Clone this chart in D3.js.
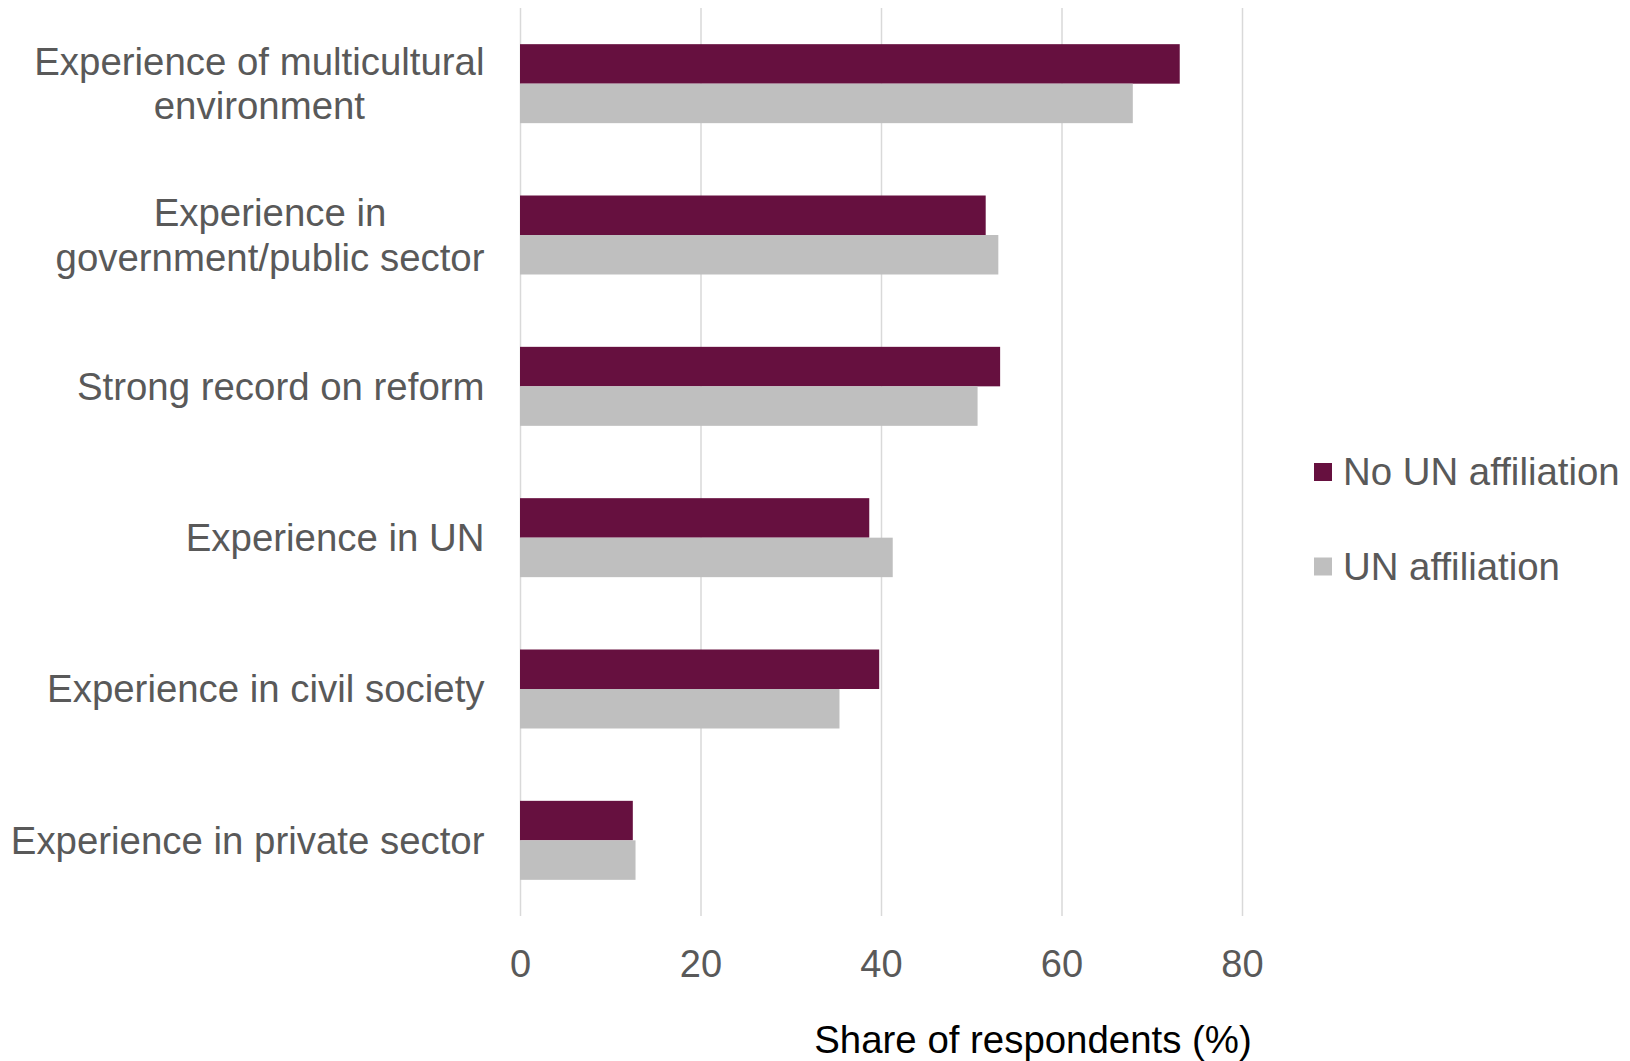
<!DOCTYPE html>
<html>
<head>
<meta charset="utf-8">
<script src="https://cdn.jsdelivr.net/npm/d3@7"></script>
<style>
  html, body { margin: 0; padding: 0; background: #ffffff; }
  svg { display: block; font-family: "Liberation Sans", Arial, sans-serif; }
</style>
</head>
<body>
<svg id="chart" width="1630" height="1061"></svg>
<script>
const categories = [
  ["Experience of multicultural", "environment"],
  ["Experience in", "government/public sector"],
  ["Strong record on reform"],
  ["Experience in UN"],
  ["Experience in civil society"],
  ["Experience in private sector"]
];
const seriesNames = ["No UN affiliation", "UN affiliation"];
const noUNValues = [73.1, 51.6, 53.2, 38.7, 39.8, 12.5];
const unValues = [67.9, 53.0, 50.7, 41.3, 35.4, 12.8];
const tickValues = [0, 20, 40, 60, 80];
const colors = ["#66103f", "#bfbfbf"];

const svg = d3.select("#chart");
const fontSize = 38.4;
const tickFontSize = 38;
const textColor = "#595959";

const x = d3.scaleLinear().domain([0, 80]).range([520, 1242]);
const y = d3.scaleBand()
  .domain(d3.range(categories.length))
  .range([8, 916])
  .paddingInner(0.478)
  .paddingOuter(0.239);
const ySub = d3.scaleBand().domain([0, 1]).range([0, y.bandwidth()]);

// gridlines
const xAxis = d3.axisBottom(x).tickValues(tickValues).tickSize(-(916 - 8)).tickFormat(d3.format("d"));
const gAxis = svg.append("g").attr("transform", "translate(0,916)").call(xAxis);
gAxis.select(".domain").remove();
gAxis.selectAll(".tick line").attr("stroke", "#d9d9d9").attr("stroke-width", 1.5);
gAxis.selectAll(".tick text")
  .attr("y", 48)
  .attr("dy", "0.35em")
  .attr("fill", textColor)
  .style("font-size", tickFontSize + "px")
  .style("font-family", '"Liberation Sans", Arial, sans-serif');

// bars
const data = categories.map((c, i) => [noUNValues[i], unValues[i]]);
const groups = svg.append("g").selectAll("g").data(data).join("g")
  .attr("transform", (d, i) => `translate(0,${y(i)})`);
groups.selectAll("rect").data(d => d).join("rect")
  .attr("x", x(0))
  .attr("y", (d, j) => ySub(j))
  .attr("width", d => x(d) - x(0))
  .attr("height", ySub.bandwidth())
  .attr("fill", (d, j) => colors[j]);

// category labels
const labelRight = 484.5;
const lineH = 44.7;
categories.forEach((lines, i) => {
  const cy = y(i) + y.bandwidth() / 2;
  const t = svg.append("text")
    .attr("fill", textColor)
    .style("font-size", fontSize + "px")
    .attr("text-anchor", "middle");
  lines.forEach((ln, k) => {
    t.append("tspan")
      .attr("y", cy + (k - (lines.length - 1) / 2) * lineH)
      .attr("dy", "0.35em")
      .text(ln);
  });
  let maxW = 0;
  t.selectAll("tspan").each(function () { maxW = Math.max(maxW, this.getComputedTextLength()); });
  t.selectAll("tspan").attr("x", labelRight - maxW / 2);
});

// axis title
svg.append("text")
  .attr("x", 1033)
  .attr("y", 1039.5)
  .attr("dy", "0.35em")
  .attr("text-anchor", "middle")
  .attr("fill", "#000000")
  .style("font-size", fontSize + "px")
  .text("Share of respondents (%)");

// legend
const legendY = [472, 566.5];
seriesNames.forEach((name, i) => {
  svg.append("rect")
    .attr("x", 1314)
    .attr("y", legendY[i] - 9)
    .attr("width", 18)
    .attr("height", 18)
    .attr("fill", colors[i]);
  svg.append("text")
    .attr("x", 1343)
    .attr("y", legendY[i])
    .attr("dy", "0.35em")
    .attr("fill", textColor)
    .style("font-size", fontSize + "px")
    .text(name);
});
</script>
</body>
</html>
